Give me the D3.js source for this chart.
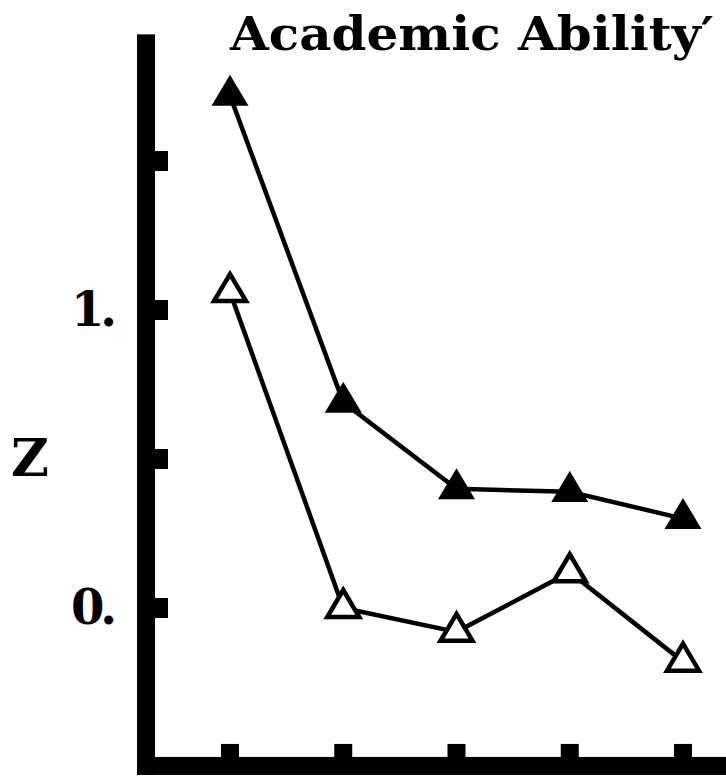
<!DOCTYPE html>
<meta charset="utf-8">
<style>
  html, body { margin: 0; padding: 0; background: #fff; }
  svg text { font-family: "DejaVu Serif", "Liberation Serif", serif; font-weight: bold; fill: #000; }
</style>
<body>
</body>
<script src="https://cdn.jsdelivr.net/npm/d3@7"></script>
<script>
  var width = 726, height = 779;

  // data
  var groups = ["1", "2", "3", "4", "5"];
  var filledZ = [1.72, 0.69, 0.40, 0.39, 0.30];
  var openZ = [1.06, 0.00, -0.08, 0.12, -0.18];
  var yTicks = [0, 0.5, 1, 1.5];
  var yLabels = {0: "0.", 1: "1."};
  var title = "Academic Ability\u2032";

  var x = d3.scalePoint().domain(groups).range([230, 683]);
  var y = d3.scaleLinear().domain([0, 1]).range([608, 310]);

  var svg = d3.select("body").append("svg")
      .attr("width", width)
      .attr("height", height);

  /* axes: thick bars */
  var axisX = 146, axisW = 18;
  var yBottom = y(-0.53), yTop = y(1.925);

  svg.append("rect")
      .attr("x", axisX - axisW / 2).attr("y", yTop)
      .attr("width", axisW).attr("height", yBottom - yTop + axisW / 2);
  svg.append("rect")
      .attr("x", axisX - axisW / 2).attr("y", yBottom - axisW / 2)
      .attr("width", width - axisX + axisW / 2).attr("height", axisW);

  // y ticks stick out to the right
  svg.selectAll(".ytick")
      .data(yTicks)
      .enter().append("rect")
      .attr("class", "ytick")
      .attr("x", axisX)
      .attr("y", d => y(d) - 10)
      .attr("width", 22)
      .attr("height", 20);

  // x ticks stick up from the bottom axis
  svg.selectAll(".xtick")
      .data(groups)
      .enter().append("rect")
      .attr("class", "xtick")
      .attr("x", d => x(d) - 9)
      .attr("y", yBottom - axisW / 2 - 13)
      .attr("width", 18)
      .attr("height", 15);

  svg.selectAll(".ylabel")
      .data(yTicks.filter(d => yLabels[d]))
      .enter().append("text")
      .attr("class", "ylabel")
      .attr("x", 113)
      .attr("y", d => y(d) + 16)
      .attr("text-anchor", "end")
      .attr("font-size", 48)
      .attr("letter-spacing", -4)
      .text(d => yLabels[d]);

  svg.append("text")
      .attr("x", 30)
      .attr("y", 476)
      .attr("text-anchor", "middle")
      .attr("font-size", 52)
      .text("Z");

  svg.append("text")
      .attr("x", 230)
      .attr("y", 50)
      .attr("font-size", 47)
      .attr("textLength", 484)
      .attr("lengthAdjust", "spacingAndGlyphs")
      .text(title);

  /* lines */
  var line = d3.line()
      .x((d, i) => x(groups[i]))
      .y(d => y(d));

  [filledZ, openZ].forEach(function (s) {
      svg.append("path")
          .attr("d", line(s))
          .attr("fill", "none")
          .attr("stroke", "#000")
          .attr("stroke-width", 4.5);
  });

  /* triangle markers, centred on their centroid */
  function tri(w, h) {
      return "M0," + (-2 * h / 3) + "L" + (w / 2) + "," + (h / 3) + "L" + (-w / 2) + "," + (h / 3) + "Z";
  }

  svg.selectAll(".filled")
      .data(filledZ)
      .enter().append("path")
      .attr("class", "filled")
      .attr("transform", (d, i) => "translate(" + x(groups[i]) + "," + y(d) + ")")
      .attr("d", tri(37, 31))
      .attr("fill", "#000");

  svg.selectAll(".open")
      .data(openZ)
      .enter().append("path")
      .attr("class", "open")
      .attr("transform", (d, i) => "translate(" + x(groups[i]) + "," + y(d) + ")")
      .attr("d", tri(32, 27))
      .attr("fill", "#fff")
      .attr("stroke", "#000")
      .attr("stroke-width", 4.5)
      .attr("stroke-linejoin", "miter");
</script>
